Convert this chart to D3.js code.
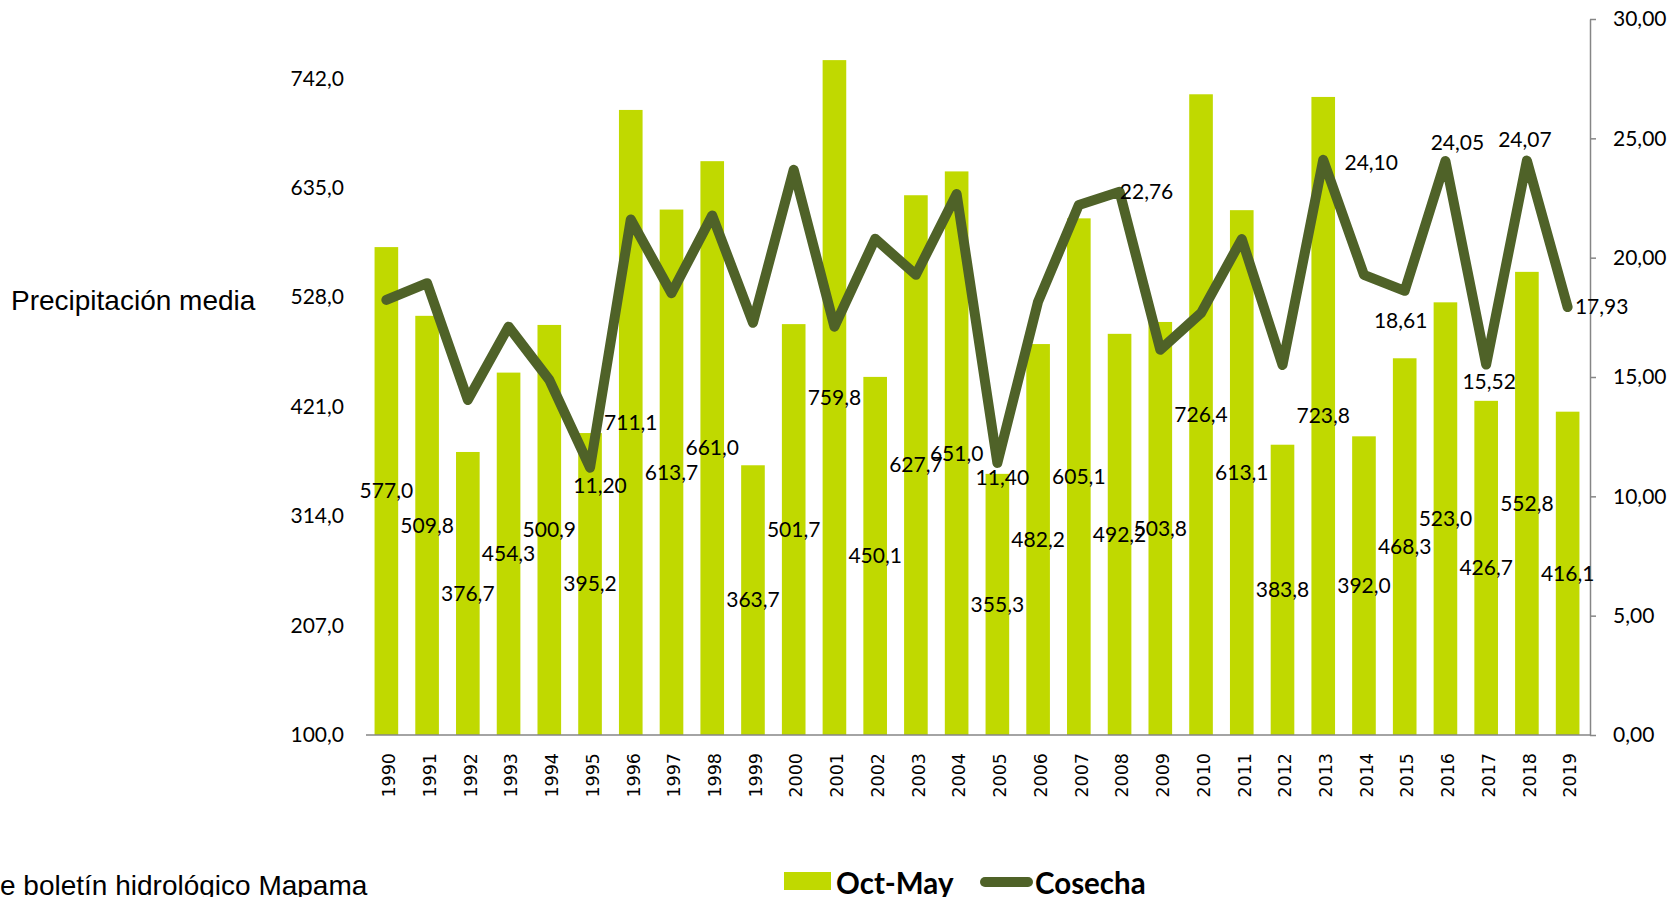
<!DOCTYPE html>
<html>
<head>
<meta charset="utf-8">
<script src="https://cdn.jsdelivr.net/npm/d3@7"></script>
<style>
  body { margin: 0; background: #fff; }
  svg { display: block; }
</style>
</head>
<body>
<svg id="chart"></svg>
<script>
// datos: precipitacion oct-may (mm) y cosecha
var years = ["1990","1991","1992","1993","1994","1995","1996","1997","1998","1999",
             "2000","2001","2002","2003","2004","2005","2006","2007","2008","2009",
             "2010","2011","2012","2013","2014","2015","2016","2017","2018","2019"];
var octMay = [577.0, 509.8, 376.7, 454.3, 500.9, 395.2, 711.1, 613.7, 661.0, 363.7,
              501.7, 759.8, 450.1, 627.7, 651.0, 355.3, 482.2, 605.1, 492.2, 503.8,
              726.4, 613.1, 383.8, 723.8, 392.0, 468.3, 523.0, 426.7, 552.8, 416.1];
var cosecha = [18.23, 18.93, 14.04, 17.11, 14.88, 11.20, 21.60, 18.51, 21.77, 17.27,
               23.68, 17.11, 20.79, 19.28, 22.67, 11.40, 18.16, 22.21, 22.76, 16.14,
               17.68, 20.78, 15.50, 24.10, 19.28, 18.61, 24.05, 15.52, 24.07, 17.93];
var leftTicks = [100, 207, 314, 421, 528, 635, 742];
var rightTicks = [0, 5, 10, 15, 20, 25, 30];
var labelledYears = ["1995","2005","2008","2013","2015","2016","2017","2018","2019"];
var seriesNames = ["Oct-May", "Cosecha"];

// donde va cada etiqueta de la linea (desplazamiento desde el punto)
var lineLabelPos = {
  "1995": [10, 18], "2005": [5, 15], "2008": [27, 0], "2013": [48, 3],
  "2015": [-4, 30], "2016": [12, -18], "2017": [3, 17], "2018": [-2, -21],
  "2019": [34, 0]
};

var width = 1671, height = 897;
var barColor = "#c0d900", lineColor = "#4f6228", axisColor = "#868686";
var plot = {left: 366, right: 1588, top: 19, bottom: 735};

var es = d3.formatLocale({decimal: ",", thousands: ".", grouping: [3], currency: ["", " €"]});
var f1 = es.format(".1f"), f2 = es.format(".2f");

var svg = d3.select("#chart")
  .attr("width", width)
  .attr("height", height);
svg.append("rect").attr("width", width).attr("height", height).attr("fill", "#fff");

var x = d3.scaleBand().domain(years).range([plot.left, plot.right])
  .paddingInner(0.42).paddingOuter(0.21);
var yLeft = d3.scaleLinear().domain([100, 800]).range([plot.bottom, plot.top]);
var yRight = d3.scaleLinear().domain([0, 30]).range([plot.bottom, plot.top]);

var data = years.map(function(y, i) { return {year: y, p: octMay[i], c: cosecha[i]}; });

// eje izquierdo (solo etiquetas)
var gLeft = svg.append("g")
  .attr("transform", "translate(350,0)")
  .call(d3.axisLeft(yLeft).tickValues(leftTicks).tickFormat(f1).tickSize(0).tickPadding(6));
gLeft.select(".domain").remove();
gLeft.selectAll("text").attr("font-size", 21).attr("font-family", "Lato").attr("fill", "#000");

// eje derecho
var gRight = svg.append("g")
  .attr("transform", "translate(1590,0)")
  .call(d3.axisRight(yRight).tickValues(rightTicks).tickFormat(f2)
    .tickSize(6).tickSizeOuter(0).tickPadding(17));
gRight.select(".domain").attr("stroke", axisColor).attr("stroke-width", 1.5);
gRight.selectAll("line").attr("stroke", axisColor).attr("stroke-width", 1.5);
gRight.selectAll("text").attr("font-size", 21).attr("font-family", "Lato").attr("fill", "#000");

// barras
svg.append("g").selectAll("rect")
  .data(data).join("rect")
  .attr("x", function(d) { return x(d.year); })
  .attr("y", function(d) { return yLeft(d.p); })
  .attr("width", x.bandwidth())
  .attr("height", function(d) { return plot.bottom - yLeft(d.p); })
  .attr("fill", barColor);

// eje x
var gBottom = svg.append("g")
  .attr("transform", "translate(0," + plot.bottom + ")")
  .call(d3.axisBottom(x).tickSize(0).tickSizeOuter(0));
gBottom.select(".domain").attr("stroke", axisColor).attr("stroke-width", 1.5)
  .attr("d", "M" + plot.left + ",0H1590");
gBottom.selectAll("text")
  .attr("font-family", "DejaVu Sans").attr("font-size", 17.5).attr("fill", "#000")
  .attr("transform", "rotate(-90)")
  .attr("x", -18).attr("y", 0).attr("dy", "0.5em")
  .style("text-anchor", "end");

// linea cosecha
var cx = function(d) { return x(d.year) + x.bandwidth() / 2; };
var line = d3.line().x(cx).y(function(d) { return yRight(d.c); });
svg.append("path").datum(data)
  .attr("d", line)
  .attr("fill", "none")
  .attr("stroke", lineColor)
  .attr("stroke-width", 10)
  .attr("stroke-linejoin", "round")
  .attr("stroke-linecap", "round");

// etiquetas de barras (centradas)
svg.append("g").selectAll("text")
  .data(data).join("text")
  .attr("x", cx)
  .attr("y", function(d) { return (yLeft(d.p) + plot.bottom) / 2; })
  .attr("dy", "0.35em")
  .attr("text-anchor", "middle")
  .attr("font-family", "Lato").attr("font-size", 21).attr("fill", "#000")
  .text(function(d) { return f1(d.p); });

// etiquetas de la linea
svg.append("g").selectAll("text")
  .data(data.filter(function(d) { return labelledYears.indexOf(d.year) >= 0; })).join("text")
  .attr("x", function(d) { return cx(d) + lineLabelPos[d.year][0]; })
  .attr("y", function(d) { return yRight(d.c) + lineLabelPos[d.year][1]; })
  .attr("dy", "0.35em")
  .attr("text-anchor", "middle")
  .attr("font-family", "Lato").attr("font-size", 21).attr("fill", "#000")
  .text(function(d) { return f2(d.c); });

// titulo eje
svg.append("text")
  .attr("x", 11).attr("y", 310)
  .attr("font-family", "Liberation Sans").attr("font-size", 28).attr("fill", "#000")
  .text("Precipitación media");

// fuente
svg.append("text")
  .attr("x", 0).attr("y", 895)
  .attr("font-family", "Liberation Sans").attr("font-size", 28).attr("fill", "#000")
  .text("e boletín hidrológico Mapama");

// leyenda
var leg = svg.append("g");
leg.append("rect").attr("x", 784).attr("y", 872).attr("width", 47).attr("height", 18).attr("fill", barColor);
leg.append("text").attr("x", 836).attr("y", 894)
  .attr("font-family", "Lato").attr("font-weight", "bold").attr("font-size", 29.5)
  .text(seriesNames[0]);
leg.append("line").attr("x1", 985).attr("x2", 1028).attr("y1", 882).attr("y2", 882)
  .attr("stroke", lineColor).attr("stroke-width", 10).attr("stroke-linecap", "round");
leg.append("text").attr("x", 1035).attr("y", 894)
  .attr("font-family", "Lato").attr("font-weight", "bold").attr("font-size", 29.5)
  .text(seriesNames[1]);
</script>
</body>
</html>
